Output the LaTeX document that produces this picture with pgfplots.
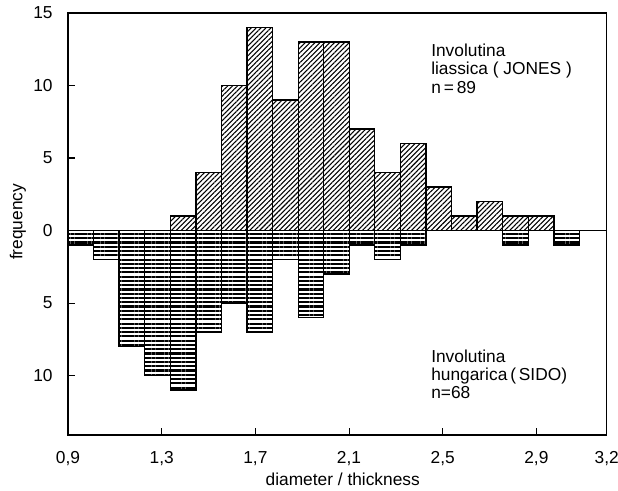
\documentclass[border=0pt]{standalone}
\usepackage{fontspec}
\setmainfont{Liberation Sans}
\usepackage{pgfplots}
\pgfplotsset{compat=1.18}
\usetikzlibrary{patterns.meta}

% bin edges: 0.9 + k*0.1092
\pgfplotstableread{
x    up
1.337 1
1.446 4
1.555 10
1.664 14
1.774 9
1.883 13
1.992 13
2.101 7
2.210 4
2.320 6
2.429 3
2.538 1
2.647 2
2.756 1
2.866 1
2.975 0
}\liassica

\pgfplotstableread{
x    down
0.900 -1
1.009 -2
1.118 -8
1.228 -10
1.337 -11
1.446 -7
1.555 -5
1.664 -7
1.774 -2
1.883 -6
1.992 -3
2.101 -1
2.210 -2
2.320 -1
2.429 0
2.538 0
2.647 0
2.756 -1
2.866 0
2.975 -1
3.084 0
}\hungarica

\begin{document}
\begin{tikzpicture}[font=\fontsize{13}{15}\selectfont]
\useasboundingbox (-51pt,-41.25pt) rectangle (412.5pt,326.25pt);
\begin{axis}[
  at={(0,0)}, anchor=south west,
  scale only axis, width=404pt, height=316.5pt,
  xmin=0.9, xmax=3.2, ymin=-14.1, ymax=15,
  xtick={0.9,1.3,1.7,2.1,2.5,2.9,3.2},
  xticklabels={{0,9},{1,3},{1,7},{2,1},{2,5},{2,9},{3,2}},
  ytick={-10,-5,0,5,10,15},
  yticklabels={10,5,0,5,10,15},
  tick align=inside, xtick pos=bottom, ytick pos=left,
  major tick length=5pt,
  axis line style={line width=1pt},
  tick style={line width=0.8pt, black},
  xticklabel style={yshift=-9pt},
  yticklabel style={xshift=-8pt},
  xlabel={diameter / thickness},
  ylabel={frequency},
  xlabel style={at={(axis description cs:0.51,0)}, anchor=center, yshift=-33pt},
  ylabel style={at={(axis description cs:-0.093,0.505)}, anchor=center},
  clip=false,
]
\addplot[ybar interval, draw=black, line width=1pt,
  pattern={Lines[angle=0,distance=3.2pt,line width=1.6pt]}]
  table[x=x, y=down] {\hungarica};
\addplot[ybar interval, draw=black, line width=1pt,
  pattern={Lines[angle=45,distance=2.6pt,line width=0.8pt]}]
  table[x=x, y=up] {\liassica};
\addplot[black, line width=0.9pt] coordinates {(0.9,0) (3.2,0)};

\node[anchor=north west, inner sep=0pt, align=left,
  font=\fontsize{13}{14}\selectfont]
  at (axis cs:2.45,12.9) {Involutina\\liassica\ (\ JONES\ )\\n\,=\,89};
\node[anchor=north west, inner sep=0pt, align=left,
  font=\fontsize{13}{13.4}\selectfont]
  at (axis cs:2.45,-8.2) {Involutina\\hungarica\,(\,SIDO)\\n=68};
\end{axis}
\end{tikzpicture}
\end{document}
